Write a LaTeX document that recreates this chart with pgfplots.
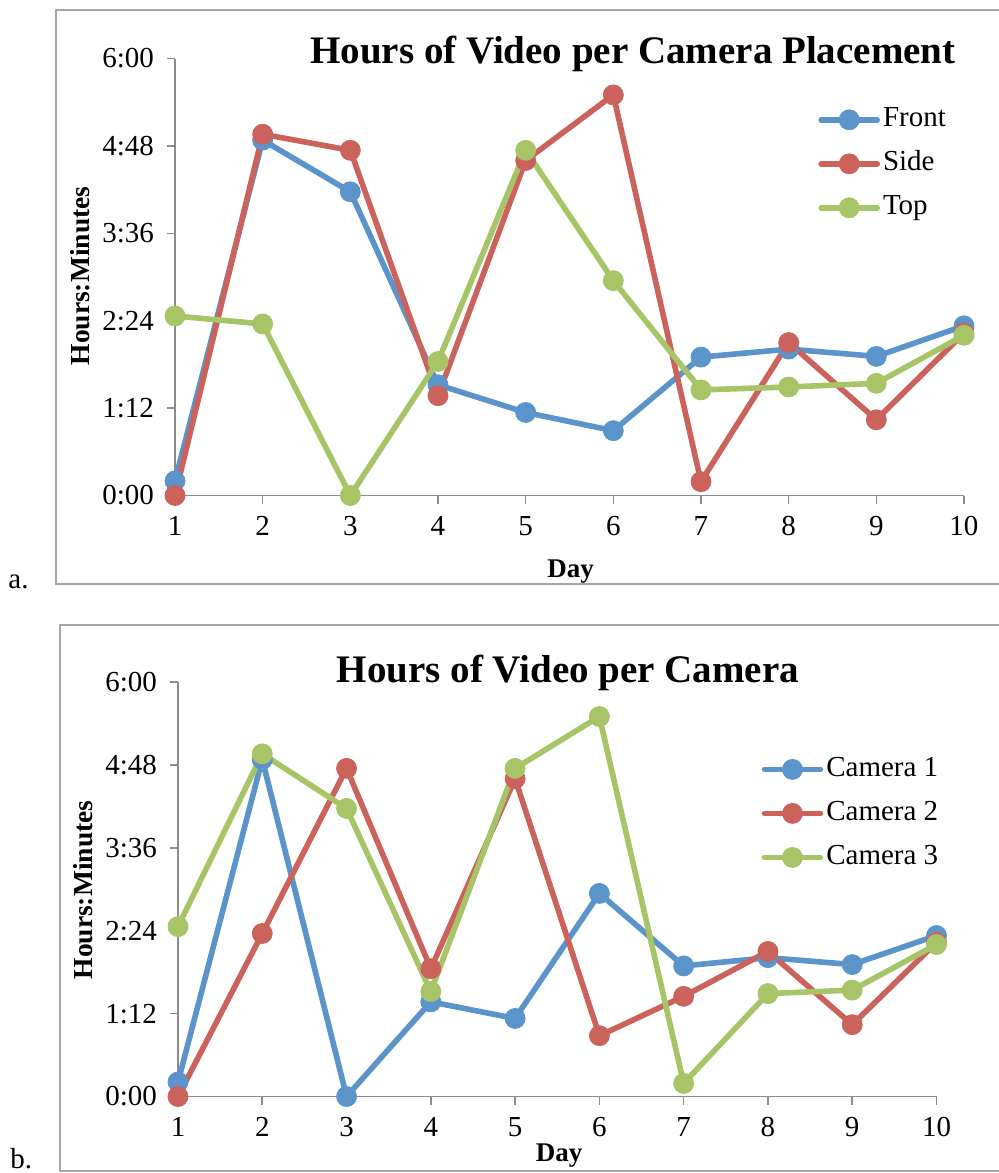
\documentclass[border=0pt]{standalone}
\usepackage{pgfplots}
\pgfplotsset{compat=1.18}
\usepackage{fontspec}
\setmainfont{Liberation Serif}
\definecolor{cblue}{HTML}{5B94CA}
\definecolor{cred}{HTML}{CC625C}
\definecolor{cgreen}{HTML}{A7C467}
\definecolor{axgray}{HTML}{8C8C8C}
\definecolor{framegray}{HTML}{A6A6A6}
\pgfplotsset{
 mystyle/.style={
  scale only axis,
  anchor=south west,
  xmin=1,xmax=10,ymin=0,ymax=6,
  axis x line=bottom, axis y line=left,
  axis line style={-, axgray, line width=0.8pt},
  every tick/.style={axgray, line width=0.8pt},
  tick align=outside,
  major tick length=4pt,
  xtick={1,...,10},
  xticklabels={1,2,3,4,5,6,7,8,9,10},
  ytick={0,1.2,2.4,3.6,4.8,6},
  yticklabels={0:00,1:12,2:24,3:36,4:48,6:00},
  tick label style={font=\fontsize{14.5}{16}\selectfont, text=black},
  yticklabel style={xshift=-3pt},
  xticklabel style={yshift=-3pt},
  /pgf/number format/assume math mode=true,
  clip=false,
  legend cell align=left,
  legend style={draw=none, fill=none, inner sep=0pt, font=\fontsize{14.5}{16}\selectfont, row sep=9pt,
    nodes={inner xsep=1.5pt, inner ysep=0pt, text height=10pt, text depth=3pt}},
  legend image code/.code={\draw[##1, mark repeat=2, mark phase=2] plot coordinates {(0pt,0pt)(14pt,0pt)(28pt,0pt)};},
 },
 ser/.style={line width=2.8pt, line join=round, line cap=round, color=#1, mark=*, mark size=5pt, mark options={fill=#1, draw=#1, line width=0.4pt}},
}
\begin{document}
\begin{tikzpicture}
\useasboundingbox (0,0) rectangle (499pt,-586.5pt);
% frames
\draw[framegray, line width=1pt] (500pt,-5pt) -- (28pt,-5pt) -- (28pt,-292pt) -- (500pt,-292pt);
\draw[framegray, line width=1pt] (500pt,-312.5pt) -- (30pt,-312.5pt) -- (30pt,-585.5pt) -- (500pt,-585.5pt);

\begin{axis}[mystyle, at={(87.5pt,-247.75pt)}, width=394.5pt, height=218.5pt,
  legend style={at={(0.815,0.759)}, anchor=west}]
\addplot[ser=cblue] coordinates {(1,0.2)(2,4.88)(3,4.17)(4,1.52)(5,1.14)(6,0.89)(7,1.90)(8,2.01)(9,1.91)(10,2.33)};
\addlegendentry{Front}
\addplot[ser=cred] coordinates {(1,0)(2,4.96)(3,4.74)(4,1.37)(5,4.60)(6,5.50)(7,0.19)(8,2.10)(9,1.04)(10,2.23)};
\addlegendentry{Side}
\addplot[ser=cgreen] coordinates {(1,2.465)(2,2.355)(3,0)(4,1.84)(5,4.74)(6,2.95)(7,1.45)(8,1.49)(9,1.54)(10,2.20)};
\addlegendentry{Top}
\end{axis}

\begin{axis}[mystyle, at={(89pt,-548.25pt)}, width=379.25pt, height=207.25pt,
  legend style={at={(0.769,0.683)}, anchor=west}]
\addplot[ser=cblue] coordinates {(1,0.21)(2,4.88)(3,0)(4,1.37)(5,1.13)(6,2.94)(7,1.89)(8,2.01)(9,1.91)(10,2.33)};
\addlegendentry{Camera 1}
\addplot[ser=cred] coordinates {(1,0)(2,2.36)(3,4.75)(4,1.85)(5,4.60)(6,0.88)(7,1.45)(8,2.10)(9,1.04)(10,2.23)};
\addlegendentry{Camera 2}
\addplot[ser=cgreen] coordinates {(1,2.46)(2,4.96)(3,4.17)(4,1.52)(5,4.75)(6,5.50)(7,0.19)(8,1.49)(9,1.54)(10,2.20)};
\addlegendentry{Camera 3}
\end{axis}

% titles and labels
\node[anchor=base, font=\fontsize{19.5}{22}\selectfont\bfseries] at (316.5pt,-31.5pt) {Hours of Video per Camera Placement};
\node[anchor=base, font=\fontsize{19.5}{22}\selectfont\bfseries] at (284pt,-341pt) {Hours of Video per Camera};
\node[anchor=base, font=\fontsize{13.5}{15}\selectfont\bfseries] at (285.25pt,-288.5pt) {Day};
\node[anchor=base, font=\fontsize{13.5}{15}\selectfont\bfseries] at (279.5pt,-580.5pt) {Day};
\node[rotate=90, font=\fontsize{13.75}{15}\selectfont\bfseries] at (40pt,-138pt) {Hours:Minutes};
\node[rotate=90, font=\fontsize{13.75}{15}\selectfont\bfseries] at (41.5pt,-445pt) {Hours:Minutes};
\node[anchor=base west, inner sep=0pt, font=\fontsize{14.5}{16}\selectfont] at (4pt,-294pt) {a.};
\node[anchor=base west, inner sep=0pt, font=\fontsize{14.5}{16}\selectfont] at (5pt,-584pt) {b.};
\end{tikzpicture}
\end{document}
